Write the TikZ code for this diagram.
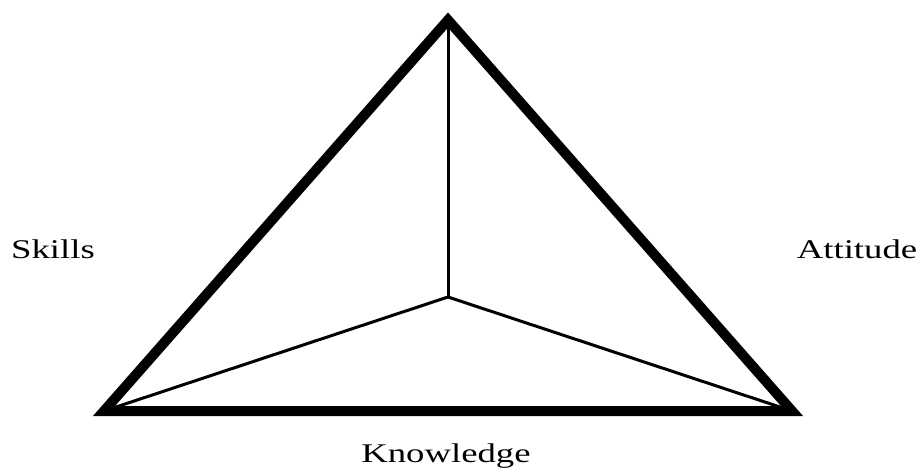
\documentclass[tikz,border=0pt]{standalone}
\usepackage{fontspec}
\setmainfont{Liberation Serif}
\usetikzlibrary{positioning}

\begin{document}
\begin{tikzpicture}[
    x=1pt, y=-1pt,
    edge/.style={line width=10pt, line join=miter, draw=black},
    spoke/.style={line width=3pt, draw=black},
    lbl/.style={font=\fontsize{27}{30}\selectfont, xscale=1.36, inner sep=0pt, anchor=base}
]
\useasboundingbox (0,0) rectangle (921,470);

\coordinate (apex) at (448,20);
\coordinate (left) at (104,411);
\coordinate (right) at (792,411);
\coordinate (mid) at (448,297);

\draw[spoke] (mid) -- (apex);
\draw[spoke] (mid) -- (left);
\draw[spoke] (mid) -- (right);
\draw[edge] (apex) -- (left) -- (right) -- cycle;

\node[lbl] (skills) at (53,259) {Skills};
\node[lbl] (attitude) at (857,259) {Attitude};
\node[lbl] (knowledge) at (446,462) {Knowledge};
\end{tikzpicture}
\end{document}
